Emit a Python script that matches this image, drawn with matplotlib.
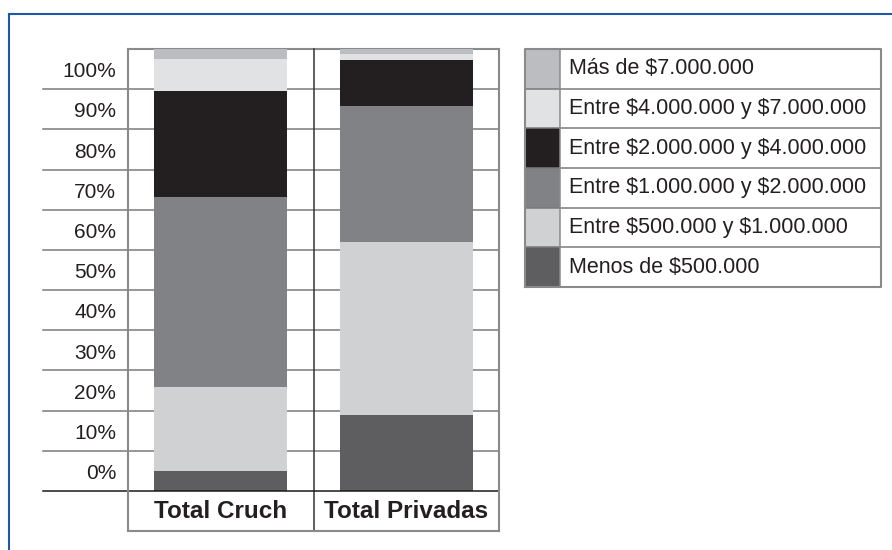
import matplotlib.pyplot as plt
import numpy as np

# datos (porcentajes)
categorias = ['Total Cruch', 'Total Privadas']
tramos = ['Menos de $500.000', 'Entre $500.000 y $1.000.000',
          'Entre $1.000.000 y $2.000.000', 'Entre $2.000.000 y $4.000.000',
          'Entre $4.000.000 y $7.000.000', 'Más de $7.000.000']
cruch = [4.5, 19.0, 43.0, 24.0, 7.2, 2.3]
privadas = [17.2, 39.1, 30.8, 10.4, 1.4, 1.1]
etiquetas_y = ['0%', '10%', '20%', '30%', '40%', '50%', '60%', '70%', '80%', '90%', '100%']

colores = ['#5e5e60', '#d0d1d3', '#808285', '#231f20', '#e1e2e3', '#bcbdc0']
gris = '#8a8a8a'
texto = '#231f20'

plt.rcParams['font.family'] = ['Liberation Sans', 'DejaVu Sans']
plt.rcParams['text.parse_math'] = False

fig = plt.figure(figsize=(8.92, 5.5), dpi=100)

# marco azul
fig.add_artist(plt.Line2D([9 / 892, 9 / 892], [0, 1 - 14 / 550], color='#1f58a8', lw=1.5))
fig.add_artist(plt.Line2D([9 / 892, 1], [1 - 14 / 550, 1 - 14 / 550], color='#1f58a8', lw=1.5))

ax = fig.add_axes([128 / 892, 1 - 491 / 550, 371 / 892, 442 / 550])
ax.set_xlim(-0.5, 1.5)
ax.set_ylim(0, 100)
ax.axis('off')

datos = np.array([cruch, privadas])
x = np.arange(len(categorias))
base = np.zeros(len(categorias))
for i, tramo in enumerate(tramos):
    ax.bar(x, datos[:, i], bottom=base, width=0.717, color=colores[i], zorder=3)
    base += datos[:, i]

# filas de la tabla
trans = ax.get_yaxis_transform()
n = len(etiquetas_y)
paso = 100 / n
for k in range(1, n):
    ax.plot([-0.229, 1], [k * paso, k * paso], transform=trans, color='#7a7a7a',
            lw=1.1, clip_on=False, zorder=1)
ax.plot([-0.229, 1], [0, 0], transform=trans, color='#1a1a1a', lw=1.1, clip_on=False, zorder=4)
for k, lab in enumerate(etiquetas_y):
    ax.text(-0.032, (k + 0.5) * paso - 0.6, lab, transform=trans, ha='right', va='center',
            fontsize=15, color=texto)

# bordes y columnas
fondo = -0.0905
ax.plot([0, 0], [fondo, 1], transform=ax.transAxes, color=gris, lw=1.5, clip_on=False, zorder=4)
ax.plot([1, 1], [fondo, 1], transform=ax.transAxes, color=gris, lw=1.5, clip_on=False, zorder=4)
ax.plot([0, 1], [1, 1], transform=ax.transAxes, color=gris, lw=1.5, clip_on=False, zorder=2)
ax.plot([0, 1], [fondo, fondo], transform=ax.transAxes, color=gris, lw=1.5, clip_on=False, zorder=4)
ax.plot([0.5, 0.5], [fondo, 1], transform=ax.transAxes, color='#333333', lw=1.1,
        clip_on=False, zorder=2)
for xi, cat in zip(x, categorias):
    ax.text(xi, -0.046, cat, transform=ax.get_xaxis_transform(), ha='center', va='center',
            fontsize=17.5, fontweight='bold', color=texto)

# leyenda en forma de tabla
lax = fig.add_axes([525 / 892, 1 - 287 / 550, 356 / 892, 238 / 550])
lax.set_xlim(0, 1)
lax.set_ylim(0, len(tramos))
lax.axis('off')
sw = 35 / 356
for i, tramo in enumerate(tramos):
    lax.barh(i + 0.5, sw, height=1, left=0, color=colores[i], zorder=1)
    lax.text(0.1236, i + 0.5, tramo, ha='left', va='center', fontsize=15.5, color=texto)
for k in range(1, len(tramos)):
    lax.plot([0, 1], [k, k], color='#7a7a7a', lw=1.1, zorder=2)
lax.plot([sw, sw], [0, len(tramos)], color=gris, lw=1.1, zorder=2)
lax.plot([0, 1, 1, 0, 0], [0, 0, len(tramos), len(tramos), 0], color=gris, lw=1.5,
         clip_on=False, zorder=3)

fig.savefig('out.png', dpi=100)
